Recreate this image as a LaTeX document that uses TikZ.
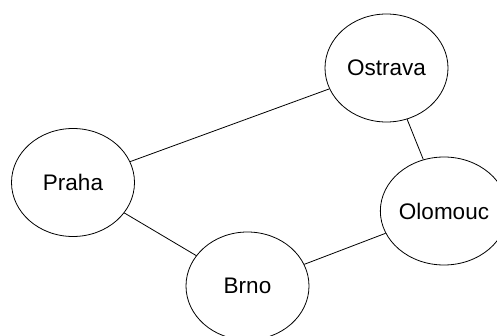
\documentclass[tikz,border=0pt]{standalone}
\usepackage{fontspec}
\setmainfont{Liberation Sans}
\usetikzlibrary{shapes.geometric}

\tikzset{
  mesto/.style={draw, thick, ellipse, minimum width=123pt, minimum height=108pt,
    inner sep=0pt, font=\fontsize{22.5}{26}\selectfont},
  silnice/.style={draw, thick}
}

\begin{document}
\begin{tikzpicture}[x=1pt,y=-1pt]
  \useasboundingbox (0,0) rectangle (497,336);

  % Města
  \node[mesto] (ostrava) at (386.5,68) {Ostrava};
  \node[mesto] (praha) at (73,182.5) {Praha};
  \node[mesto] (olomouc) at (444,211) {Olomouc};
  \node[mesto] (brno) at (247.5,286) {Brno};

  % Spojení
  \draw[silnice] (praha) -- (ostrava);
  \draw[silnice] (ostrava) -- (olomouc);
  \draw[silnice] (praha) -- (brno);
  \draw[silnice] (brno) -- (olomouc);
\end{tikzpicture}
\end{document}
